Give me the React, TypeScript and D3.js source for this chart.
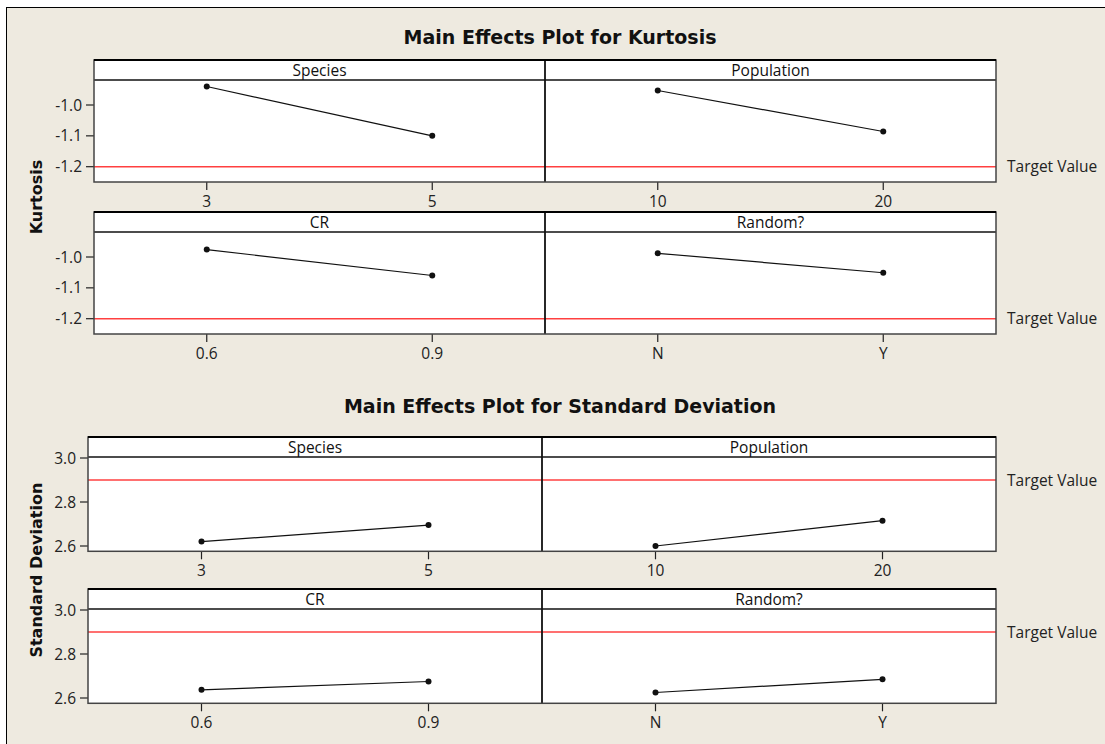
import React from "react";
import * as d3 from "d3";

const factors = ["Species", "Population", "CR", "Random?"];
const levels = [["3", "5"], ["10", "20"], ["0.6", "0.9"], ["N", "Y"]];
const kurtosisMeans = [[-0.94, -1.1], [-0.953, -1.086], [-0.976, -1.06], [-0.988, -1.051]];
const sdMeans = [[2.62, 2.695], [2.6, 2.715], [2.637, 2.675], [2.625, 2.685]];
const kurtosisTicks = [-1.0, -1.1, -1.2];
const sdTicks = [2.6, 2.8, 3.0];
const kurtosisTarget = -1.2;
const sdTarget = 2.9;

const BOLD_FONT = "'DejaVu Sans', Verdana, sans-serif";
const FONT = "'Open Sans', 'Noto Sans', sans-serif";
const FS = 15.5;

const fmt = (v: number) => v.toFixed(1);

type BlockProps = {
  title: string;
  titleY: number;
  yLabel: string;
  left: number;
  right: number;
  rowTops: number[];
  yDomain: [number, number];
  yRangeOffsets: [number, number];
  panelHeight: number;
  ticks: number[];
  means: number[][];
  target: number;
};

function Block(p: BlockProps) {
  const mid = (p.left + p.right) / 2;
  const halves = [
    [p.left, mid],
    [mid, p.right],
  ];
  const stripH = 20;
  return (
    <g>
      <text x={560} y={p.titleY} textAnchor="middle" fontFamily={BOLD_FONT} fontWeight="bold" fontSize={19} fill="#111">
        {p.title}
      </text>
      <text
        transform={`translate(41.5,${(p.rowTops[0] + p.rowTops[1] + p.panelHeight) / 2}) rotate(-90)`}
        textAnchor="middle"
        fontFamily={BOLD_FONT}
        fontWeight="bold"
        fontSize={16}
        fill="#111"
      >
        {p.yLabel}
      </text>
      {p.rowTops.map((top, r) => {
        const y = d3
          .scaleLinear()
          .domain(p.yDomain)
          .range([top + p.yRangeOffsets[0], top + p.yRangeOffsets[1]]);
        const bottom = top + p.panelHeight;
        const ty = y(p.target);
        return (
          <g key={r}>
            <rect x={p.left} y={top} width={p.right - p.left} height={p.panelHeight} fill="#fff" />
            {p.ticks.map((t) => (
              <g key={t}>
                <line x1={p.left - 8} x2={p.left} y1={y(t)} y2={y(t)} stroke="#222" strokeWidth={1.2} />
                <text
                  x={p.left - 12}
                  y={y(t)}
                  dy="0.36em"
                  textAnchor="end"
                  fontFamily={FONT}
                  fontSize={FS}
                  fill="#222"
                >
                  {fmt(t)}
                </text>
              </g>
            ))}
            <line x1={p.left} x2={p.right} y1={ty} y2={ty} stroke="#ff4040" strokeWidth={1.6} />
            <text x={p.right + 11} y={ty} dy="0.36em" fontFamily={FONT} fontSize={FS} fill="#222">
              Target Value
            </text>
            {halves.map(([x0, x1], c) => {
              const idx = r * 2 + c;
              const x = d3.scalePoint<string>().domain(levels[idx]).range([x0, x1]).padding(0.5);
              const pts = levels[idx].map((lv, i) => [x(lv) as number, y(p.means[idx][i])] as [number, number]);
              const path = d3.line()(pts) || "";
              return (
                <g key={c}>
                  <text
                    x={(x0 + x1) / 2}
                    y={top + 15.5}
                    textAnchor="middle"
                    fontFamily={FONT}
                    fontSize={FS}
                    fill="#111"
                  >
                    {factors[idx]}
                  </text>
                  {levels[idx].map((lv) => (
                    <g key={lv}>
                      <line x1={x(lv)} x2={x(lv)} y1={bottom} y2={bottom + 8} stroke="#222" strokeWidth={1.2} />
                      <text
                        x={x(lv)}
                        y={bottom + 25}
                        textAnchor="middle"
                        fontFamily={FONT}
                        fontSize={FS}
                        fill="#222"
                      >
                        {lv}
                      </text>
                    </g>
                  ))}
                  <path d={path} fill="none" stroke="#111" strokeWidth={1.2} />
                  {pts.map((pt, i) => (
                    <circle key={i} cx={pt[0]} cy={pt[1]} r={3} fill="#111" />
                  ))}
                </g>
              );
            })}
            <line x1={p.left} x2={p.right} y1={top + stripH} y2={top + stripH} stroke="#111" strokeWidth={1.3} />
            <line x1={mid} x2={mid} y1={top} y2={bottom} stroke="#111" strokeWidth={1.8} />
            <rect
              x={p.left}
              y={top}
              width={p.right - p.left}
              height={p.panelHeight}
              fill="none"
              stroke="#444"
              strokeWidth={1.5}
            />
            <line x1={p.left} x2={p.right} y1={top} y2={top} stroke="#000" strokeWidth={2} />
          </g>
        );
      })}
    </g>
  );
}

export default function App() {
  return (
    <svg
      width={1105}
      height={744}
      style={{ position: "absolute", left: 0, top: 0, display: "block" }}
      xmlns="http://www.w3.org/2000/svg"
    >
      <rect x={0} y={0} width={1105} height={744} fill="#ffffff" />
      <rect x={6.5} y={7.5} width={1200} height={800} fill="#eeeae0" stroke="#000" strokeWidth={1} />
      <Block
        title="Main Effects Plot for Kurtosis"
        titleY={44}
        yLabel="Kurtosis"
        left={94}
        right={996}
        rowTops={[60, 212]}
        yDomain={[-1.2, -1.0]}
        yRangeOffsets={[106.7, 45]}
        panelHeight={122}
        ticks={kurtosisTicks}
        means={kurtosisMeans}
        target={kurtosisTarget}
      />
      <Block
        title="Main Effects Plot for Standard Deviation"
        titleY={413}
        yLabel="Standard Deviation"
        left={88}
        right={996}
        rowTops={[437, 589]}
        yDomain={[2.6, 3.0]}
        yRangeOffsets={[109, 21]}
        panelHeight={114.3}
        ticks={sdTicks}
        means={sdMeans}
        target={sdTarget}
      />
    </svg>
  );
}
